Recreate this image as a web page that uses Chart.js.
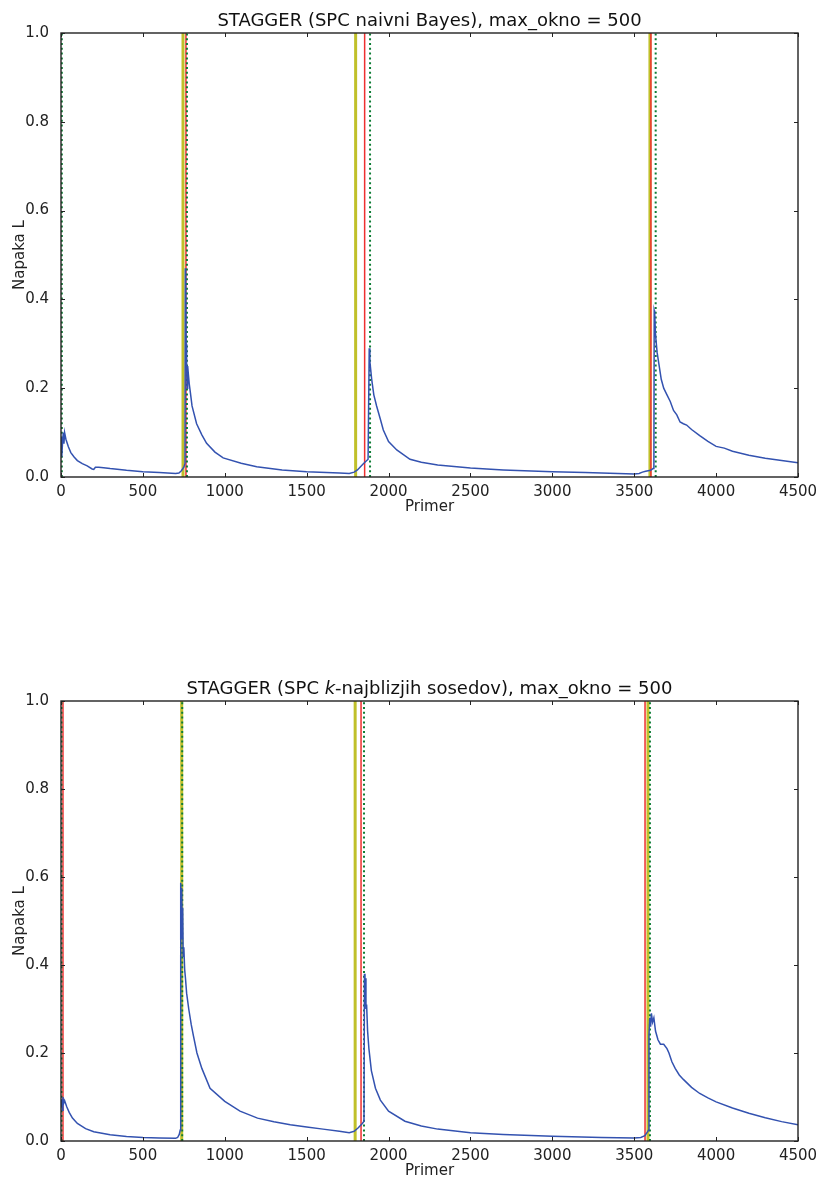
<!DOCTYPE html>
<html>
<head>
<meta charset="utf-8">
<script src="https://cdn.jsdelivr.net/npm/chart.js@4.4.1/dist/chart.umd.min.js"></script>
<style>
  html, body { margin: 0; padding: 0; background: #fff; }
  .wrap { position: absolute; left: 0; width: 819px; height: 589px; }
</style>
</head>
<body>
<div class="wrap" style="top:0"><canvas id="chartNB" width="819" height="589"></canvas></div>
<div class="wrap" style="top:589px"><canvas id="chartKNN" width="819" height="589"></canvas></div>
<script>
// osi
const xTicks = [0, 500, 1000, 1500, 2000, 2500, 3000, 3500, 4000, 4500];
const yTicks = [0.0, 0.2, 0.4, 0.6, 0.8, 1.0];

// naivni Bayes - napaka
const nbX = [0, 3, 6, 10, 14, 18, 22, 30, 45, 60, 80, 100, 130, 160, 190, 200, 210, 230, 260, 300, 400, 500, 600, 700, 720, 735, 750, 757,
  759, 761, 764, 767, 770, 772, 775, 778, 783, 790, 800, 828, 860, 889, 940, 990, 1100, 1195, 1350, 1500, 1700, 1760, 1790, 1810, 1846, 1875, 1880,
  1882, 1886, 1897, 1910, 1927, 1950, 1968, 2000, 2050, 2131, 2200, 2300, 2500, 2700, 3000, 3200, 3400, 3500, 3530, 3550, 3570, 3600, 3615, 3620,
  3622, 3625, 3630, 3640, 3650, 3665, 3680, 3700, 3720, 3740, 3760, 3780, 3800, 3820, 3850, 3900, 3950, 4000, 4050, 4100, 4200, 4300, 4400, 4500];
const nbY = [0.06, 0.09, 0.045, 0.08, 0.1, 0.075, 0.1, 0.085, 0.068, 0.055, 0.045, 0.037, 0.03, 0.025, 0.018, 0.017, 0.022, 0.022, 0.021, 0.019, 0.015, 0.012, 0.01, 0.008, 0.009, 0.014, 0.022, 0.03,
  0.47, 0.46, 0.3, 0.25, 0.2, 0.245, 0.25, 0.23, 0.21, 0.19, 0.16, 0.12, 0.095, 0.076, 0.056, 0.043, 0.031, 0.023, 0.016, 0.012, 0.009, 0.008, 0.011, 0.016, 0.03, 0.04, 0.04,
  0.29, 0.26, 0.22, 0.185, 0.16, 0.13, 0.106, 0.08, 0.061, 0.04, 0.033, 0.027, 0.02, 0.016, 0.012, 0.01, 0.008, 0.007, 0.008, 0.011, 0.013, 0.015, 0.019, 0.02,
  0.375, 0.37, 0.32, 0.28, 0.256, 0.22, 0.2, 0.185, 0.17, 0.15, 0.14, 0.124, 0.12, 0.117, 0.107, 0.093, 0.08, 0.069, 0.065, 0.058, 0.049, 0.042, 0.037, 0.032];

// k-najblizjih sosedov - napaka
const knnX = [0, 4, 8, 12, 16, 22, 35, 50, 70, 100, 150, 200, 300, 400, 500, 600, 700, 712, 722, 728,
  731, 734, 737, 740, 743, 746, 750, 755, 760, 767, 780, 795, 808, 830, 860, 910, 1000, 1093, 1200, 1300, 1400, 1500, 1600, 1700, 1760, 1790, 1815, 1840, 1850,
  1853, 1856, 1859, 1862, 1866, 1872, 1880, 1895, 1920, 1950, 2000, 2100, 2200, 2300, 2500, 2700, 3000, 3300, 3500, 3540, 3565, 3580, 3588,
  3590, 3595, 3600, 3605, 3612, 3620, 3630, 3645, 3660, 3680, 3700, 3712, 3730, 3750, 3775, 3800, 3850, 3900, 3950, 4000, 4100, 4200, 4300, 4400, 4500];
const knnY = [0.08, 0.095, 0.07, 0.1, 0.085, 0.092, 0.078, 0.065, 0.052, 0.04, 0.028, 0.021, 0.014, 0.01, 0.008, 0.007, 0.006, 0.008, 0.015, 0.025,
  0.587, 0.5, 0.575, 0.46, 0.53, 0.42, 0.44, 0.39, 0.37, 0.336, 0.3, 0.265, 0.24, 0.2, 0.165, 0.12, 0.09, 0.068, 0.052, 0.044, 0.037, 0.032, 0.027, 0.022, 0.019, 0.022, 0.03, 0.04, 0.045,
  0.38, 0.33, 0.37, 0.3, 0.31, 0.25, 0.21, 0.16, 0.12, 0.093, 0.068, 0.045, 0.034, 0.027, 0.019, 0.015, 0.011, 0.008, 0.007, 0.008, 0.012, 0.02, 0.025,
  0.24, 0.28, 0.26, 0.29, 0.27, 0.28, 0.25, 0.23, 0.22, 0.22, 0.21, 0.2, 0.18, 0.165, 0.15, 0.14, 0.122, 0.108, 0.098, 0.089, 0.075, 0.063, 0.053, 0.044, 0.037];

// navpicne crte (sprememba koncepta / zaznava)
const nbGreen = [5, 769, 1887, 3631];
const nbYellow = [745, 1799, 3596];
const nbRed = [763, 1854, 3602];
const knnGreen = [3, 740, 1850, 3596];
const knnYellow = [737, 1796, 3584];
const knnRed = [12, 1832, 3566];

Chart.defaults.font.family = "'DejaVu Sans', sans-serif";
Chart.defaults.color = '#222';

function vlines(xs) {
    const pts = [];
    xs.forEach(x => {
        pts.push({ x: x, y: 0 }, { x: x, y: 1 }, { x: x, y: null });
    });
    return pts;
}

// okvir, notranje oznake, naslovi
const framePlugin = {
    id: 'frame',
    afterDraw(chart, args, opts) {
        const { ctx, chartArea: a, scales } = chart;
        ctx.save();
        ctx.strokeStyle = '#222';
        ctx.lineWidth = 1;
        xTicks.forEach(v => {
            const px = Math.round(scales.x.getPixelForValue(v)) + 0.5;
            ctx.beginPath();
            ctx.moveTo(px, a.bottom); ctx.lineTo(px, a.bottom - 4);
            ctx.moveTo(px, a.top); ctx.lineTo(px, a.top + 4);
            ctx.stroke();
        });
        yTicks.forEach(v => {
            const py = Math.round(scales.y.getPixelForValue(v)) + 0.5;
            ctx.beginPath();
            ctx.moveTo(a.left, py); ctx.lineTo(a.left + 4, py);
            ctx.moveTo(a.right, py); ctx.lineTo(a.right - 4, py);
            ctx.stroke();
        });
        ctx.lineWidth = 1.4;
        ctx.strokeStyle = '#222';
        ctx.strokeRect(a.left, a.top, a.right - a.left, a.bottom - a.top);

        // naslov
        ctx.fillStyle = '#111';
        ctx.textBaseline = 'alphabetic';
        const parts = opts.title;
        let total = 0;
        parts.forEach(p => {
            ctx.font = (p.italic ? 'italic ' : '') + "18px 'DejaVu Sans'";
            p.w = ctx.measureText(p.text).width;
            total += p.w;
        });
        let x = (a.left + a.right) / 2 - total / 2;
        ctx.textAlign = 'left';
        parts.forEach(p => {
            ctx.font = (p.italic ? 'italic ' : '') + "18px 'DejaVu Sans'";
            ctx.fillText(p.text, x, a.top - 7);
            x += p.w;
        });

        // oznake osi
        ctx.font = "15px 'DejaVu Sans'";
        ctx.fillStyle = '#222';
        ctx.textAlign = 'center';
        ctx.textBaseline = 'middle';
        ctx.fillText('Primer', (a.left + a.right) / 2, a.bottom + 30);
        ctx.save();
        ctx.translate(20, (a.top + a.bottom) / 2);
        ctx.rotate(-Math.PI / 2);
        ctx.fillText('Napaka L', 0, 0);
        ctx.restore();
        ctx.restore();
    }
};

function makeChart(id, xs, ys, green, yellow, red, title, padTop, xHeight) {
    const ctx = document.getElementById(id).getContext('2d');
    return new Chart(ctx, {
        type: 'line',
        data: {
            datasets: [
                {
                    data: xs.map((x, i) => ({ x: x, y: ys[i] })),
                    borderColor: '#3352b0',
                    borderWidth: 1.5,
                    pointRadius: 0,
                    tension: 0
                },
                {
                    data: vlines(green),
                    borderColor: '#0e7d35',
                    borderWidth: 2,
                    borderDash: [2, 2.8],
                    pointRadius: 0,
                    spanGaps: false
                },
                {
                    data: vlines(red),
                    borderColor: '#ee3030',
                    borderWidth: 1.5,
                    pointRadius: 0,
                    spanGaps: false
                },
                {
                    data: vlines(yellow),
                    borderColor: '#c0c02a',
                    borderWidth: 3,
                    pointRadius: 0,
                    spanGaps: false
                }
            ]
        },
        options: {
            responsive: false,
            animation: false,
            layout: { padding: { top: padTop, right: 21, left: 0, bottom: 0 } },
            plugins: {
                legend: { display: false },
                tooltip: { enabled: false },
                frame: { title: title }
            },
            scales: {
                x: {
                    type: 'linear',
                    min: 0,
                    max: 4500,
                    grid: { display: false },
                    border: { display: false },
                    ticks: { stepSize: 500, padding: -2, font: { size: 15 }, maxRotation: 0, callback: v => String(v) },
                    afterFit: s => { s.height = xHeight; }
                },
                y: {
                    min: 0,
                    max: 1,
                    grid: { display: false },
                    border: { display: false },
                    ticks: { stepSize: 0.2, padding: 4, font: { size: 15 }, callback: v => v.toFixed(1) },
                    afterFit: s => { s.width = 61; }
                }
            }
        },
        plugins: [framePlugin]
    });
}

makeChart('chartNB', nbX, nbY, nbGreen, nbYellow, nbRed,
    [{ text: 'STAGGER (SPC naivni Bayes), max_okno = 500' }], 33, 112);
makeChart('chartKNN', knnX, knnY, knnGreen, knnYellow, knnRed,
    [{ text: 'STAGGER (SPC ' }, { text: 'k', italic: true }, { text: '-najblizjih sosedov), max_okno = 500' }], 112, 37);
</script>
</body>
</html>
